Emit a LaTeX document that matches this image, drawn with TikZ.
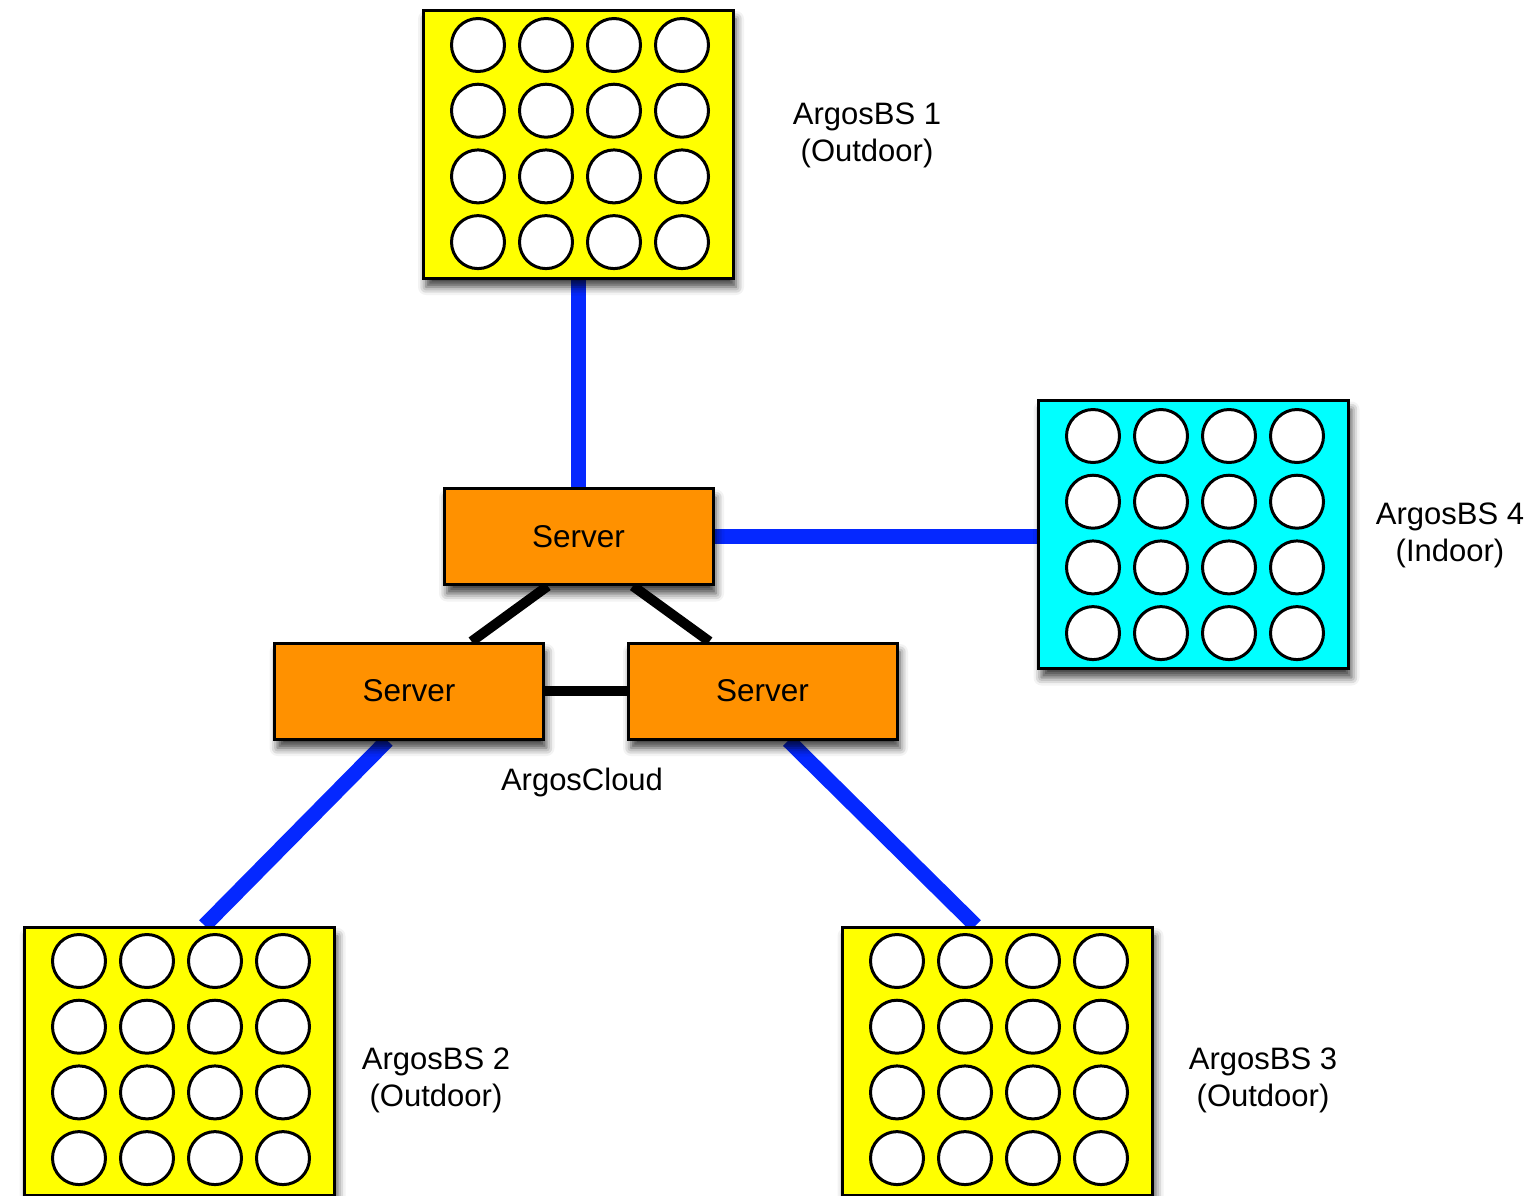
\documentclass[tikz,border=0pt]{standalone}
\usepackage{fontspec}
\setmainfont{Liberation Sans}
\usetikzlibrary{calc,shadows.blur,backgrounds}
\definecolor{bsyellow}{RGB}{255,255,0}
\definecolor{bscyan}{RGB}{0,255,255}
\definecolor{srvorange}{RGB}{255,145,0}
\definecolor{linkblue}{RGB}{5,40,255}
\tikzset{
  bsbox/.style={draw=black, line width=3pt, minimum width=310pt, minimum height=268pt, inner sep=0pt,
    blur shadow={shadow xshift=3pt, shadow yshift=-9pt, shadow blur radius=8pt, shadow opacity=75}},
  antenna/.style={circle, draw=black, fill=white, line width=3pt, minimum size=53pt, inner sep=0pt},
  srvbox/.style={draw=black, line width=3pt, fill=srvorange, minimum width=269pt, minimum height=96pt, inner sep=0pt,
    font=\fontsize{31.5}{37}\selectfont,
    blur shadow={shadow xshift=3pt, shadow yshift=-9pt, shadow blur radius=8pt, shadow opacity=75}},
  lbl/.style={align=center, font=\fontsize{31}{37}\selectfont, inner sep=0pt},
  bluelink/.style={draw=linkblue, line width=15pt},
  blacklink/.style={draw=black, line width=10pt},
}
\begin{document}
\begin{tikzpicture}[x=1pt,y=-1pt]
\useasboundingbox (0,0) rectangle (1532,1195);
% base stations
\node[bsbox, fill=bsyellow] (bs1) at (578,144) {};
\node[bsbox, fill=bscyan]   (bs4) at (1193.5,534.5) {};
\node[bsbox, fill=bsyellow] (bs2) at (179.5,1061) {};
\node[bsbox, fill=bsyellow] (bs3) at (997.5,1061) {};
\foreach \b/\x/\y in {bs1/478/45, bs4/1093/436, bs2/79/961, bs3/897/961}{
  \foreach \i in {0,1,2,3}{
    \foreach \j in {0,1,2,3}{
      \node[antenna] (\b c\i\j) at ({\x+68*\i},{\y+65.7*\j}) {};
    }
  }
}
% servers
\node[srvbox] (s1) at (578.5,536.5) {Server};
\node[srvbox] (s2) at (409,691) {Server};
\node[srvbox] (s3) at (762.5,691) {Server};
% labels
\node[lbl] (l1) at (867,135) {ArgosBS 1\\(Outdoor)};
\node[lbl] (l4) at (1450,535) {ArgosBS 4\\(Indoor)};
\node[lbl] (l2) at (436,1080) {ArgosBS 2\\(Outdoor)};
\node[lbl] (l3) at (1263,1080) {ArgosBS 3\\(Outdoor)};
\node[lbl] (lc) at (582,782) {ArgosCloud};
% links
\begin{pgfonlayer}{background}
\draw[bluelink] (bs1.south) -- (s1.north -| bs1.south);
\draw[bluelink] (s1.east) -- (s1.east -| bs4.west);
\draw[bluelink] ($(s2.south west)!0.42!(s2.south east)$) -- ($(bs2.north west)!0.58!(bs2.north east)$);
\draw[bluelink] ($(s3.south west)!0.595!(s3.south east)$) -- ($(bs3.north west)!0.43!(bs3.north east)$);
\draw[blacklink] ($(s1.south west)!0.387!(s1.south east)$) -- ($(s2.north west)!0.73!(s2.north east)$);
\draw[blacklink] ($(s1.south west)!0.70!(s1.south east)$) -- ($(s3.north west)!0.305!(s3.north east)$);
\draw[blacklink] (s2.east) -- (s3.west);
\end{pgfonlayer}
\end{tikzpicture}
\end{document}
